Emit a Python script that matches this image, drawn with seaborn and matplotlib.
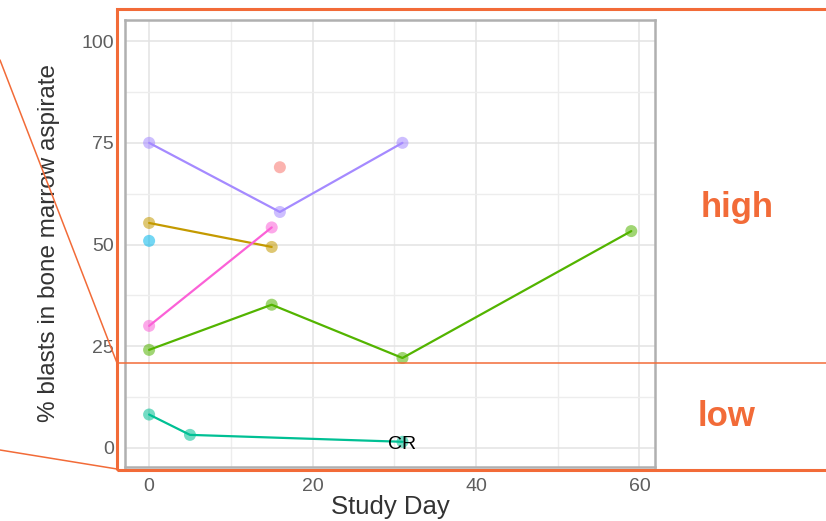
import pandas as pd
import matplotlib.pyplot as plt
import seaborn as sns
from matplotlib.lines import Line2D
from matplotlib.patches import Rectangle

# blasts per patient
patients = ["P1", "P2", "P3", "P4", "P5", "P6", "P7"]
days = [
    [16],
    [0, 15],
    [0, 15, 31, 59],
    [0, 5, 31],
    [0],
    [0, 16, 31],
    [0, 15],
]
blasts = [
    [69],
    [55.3, 49.4],
    [24.1, 35.2, 22.1, 53.3],
    [8.2, 3.2, 1.5],
    [50.9],
    [75, 58, 75],
    [30, 54.2],
]
colors = ["#F8766D", "#C49A00", "#53B400", "#00C094", "#00B6EB", "#A58AFF", "#FB61D7"]
x_ticks = [0, 20, 40, 60]
y_ticks = [0, 25, 50, 75, 100]

orange = "#F26B38"


def build_frame():
    rows = []
    for p, d, b in zip(patients, days, blasts):
        for x, y in zip(d, b):
            rows.append({"patient": p, "day": x, "blasts": y})
    return pd.DataFrame(rows)


def plot_blasts(df):
    sns.set_style("white")
    plt.rcParams['font.family'] = ['Liberation Sans', 'DejaVu Sans']
    fig = plt.figure(figsize=(8.26, 5.21), dpi=100)
    ax = fig.add_axes([125 / 826, 1 - 467 / 521, 530 / 826, 447 / 521])

    pal = dict(zip(patients, colors))
    sns.lineplot(data=df, x="day", y="blasts", hue="patient", palette=pal,
                 estimator=None, sort=True, lw=1.6, legend=False, ax=ax)
    sns.scatterplot(data=df, x="day", y="blasts", hue="patient", palette=pal,
                    s=75, alpha=0.55, linewidth=0, legend=False, ax=ax, zorder=3)

    ax.set_xlim(-2.95, 61.9)
    ax.set_ylim(-4.7, 105.2)
    ax.set_xticks(x_ticks)
    ax.set_yticks(y_ticks)
    ax.set_xticks([10, 30, 50], minor=True)
    ax.set_yticks([12.5, 37.5, 62.5, 87.5], minor=True)
    ax.grid(True, which="major", color="#E3E3E3", lw=1.1)
    ax.grid(True, which="minor", color="#EDEDED", lw=1.0)
    ax.set_axisbelow(True)
    for s in ax.spines.values():
        s.set_color("#B0B0B0")
        s.set_linewidth(1.8)
    ax.tick_params(axis="both", which="major", length=4, color="#B0B0B0",
                   labelsize=14, labelcolor="#5E5E5E", pad=4)
    ax.tick_params(which="minor", length=0)
    ax.set_xlabel("Study Day", fontsize=18.5, color="#333333", labelpad=0)
    ax.set_ylabel("% blasts in bone marrow aspirate", fontsize=17.5,
                  color="#333333", labelpad=15)

    ax.text(31, 0.9, "CR", fontsize=14, color="black", ha="center", va="center")

    # orange annotation overlay in figure pixel coordinates
    def fx(px):
        return px / 826

    def fy(py):
        return 1 - py / 521

    fig.add_artist(Rectangle((fx(117), fy(470)), fx(720), fy(9) - fy(470),
                             fill=False, ec=orange, lw=2.2,
                             transform=fig.transFigure))
    fig.add_artist(Line2D([fx(117), fx(826)], [fy(363), fy(363)],
                          color=orange, lw=1.1, transform=fig.transFigure))
    fig.add_artist(Line2D([fx(0), fx(117)], [fy(60), fy(363)],
                          color=orange, lw=1.1, transform=fig.transFigure))
    fig.add_artist(Line2D([fx(0), fx(117)], [fy(450), fy(469)],
                          color=orange, lw=1.1, transform=fig.transFigure))
    fig.text(fx(737), fy(208), "high", color=orange, fontsize=25,
             fontweight="bold", ha="center", va="center")
    fig.text(fx(727), fy(416), "low", color=orange, fontsize=25,
             fontweight="bold", ha="center", va="center")

    fig.savefig("out.png", dpi=100)


if __name__ == "__main__":
    plot_blasts(build_frame())
